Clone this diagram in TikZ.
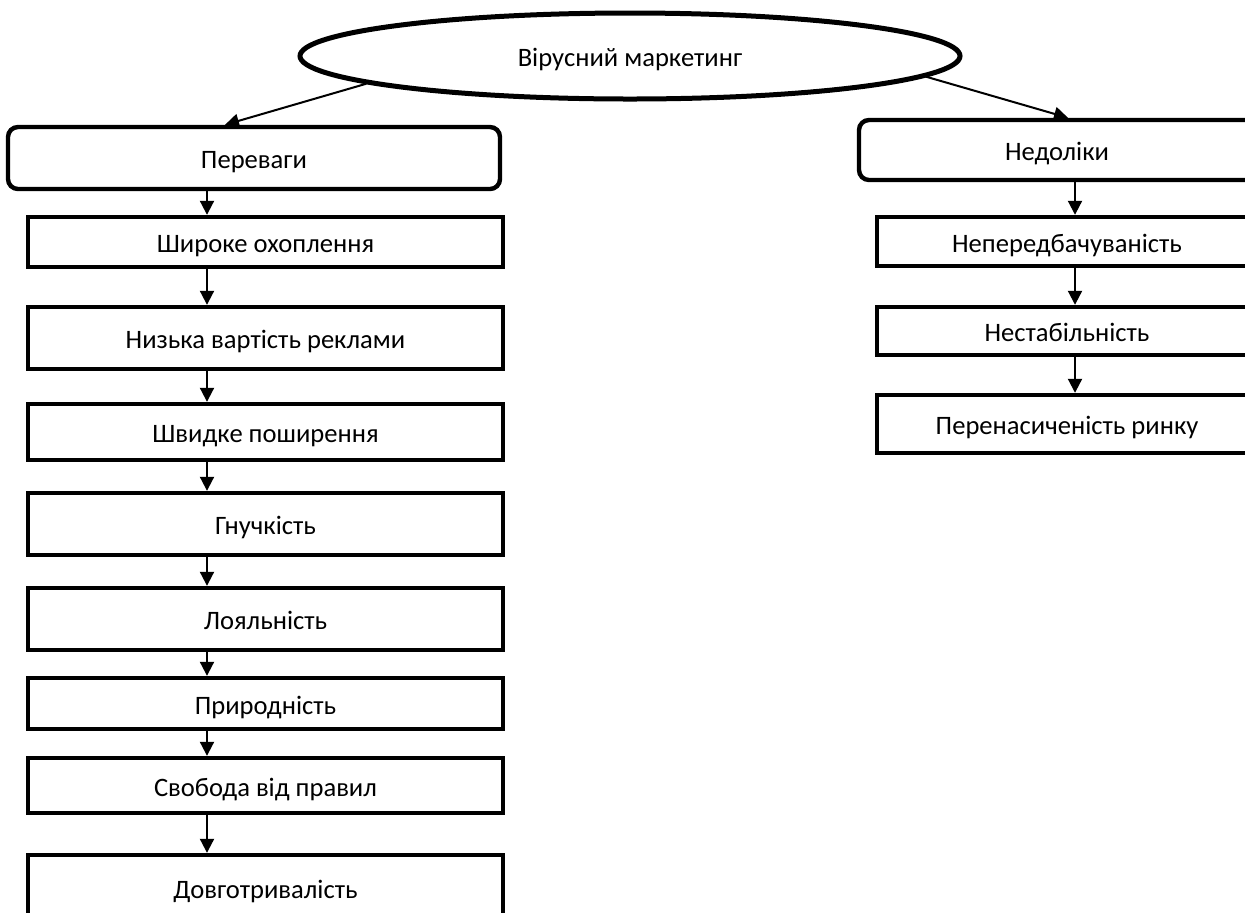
\documentclass[tikz,border=0pt]{standalone}
\usepackage{fontspec}
\setmainfont{Carlito}
\usetikzlibrary{shapes.geometric, arrows.meta, positioning}

\begin{document}
\begin{tikzpicture}[
    x=0.5pt, y=-0.5pt,
    every node/.style={font=\fontsize{13.3}{15}\selectfont, text height=2.2ex, text depth=0pt},
    topnode/.style={ellipse, draw, line width=2.5pt, minimum width=330pt, minimum height=43pt, inner sep=0pt},
    headbox/.style={rectangle, rounded corners=5pt, draw, line width=2.2pt, minimum height=31pt, inner sep=0pt},
    itembox/.style={rectangle, draw, line width=2.2pt, inner sep=0pt},
    arrow/.style={-{Triangle[length=7pt, width=7pt]}, line width=1pt}
]
    \useasboundingbox (0,0) rectangle (1245,912);
    \clip (0,0) rectangle (1245,912);

    % Top
    \node[topnode] (vm) at (630,56) {Вірусний маркетинг};

    % Left branch: advantages
    \node[headbox, minimum width=246pt] (adv) at (254,158) {Переваги};
    \node[itembox, minimum width=237.5pt, minimum height=25pt] (a1) at (265.5,242) {Широке охоплення};
    \node[itembox, minimum width=237.5pt, minimum height=31pt] (a2) at (265.5,338) {Низька вартість реклами};
    \node[itembox, minimum width=237.5pt, minimum height=28pt] (a3) at (265.5,432) {Швидке поширення};
    \node[itembox, minimum width=237.5pt, minimum height=31pt] (a4) at (265.5,524) {Гнучкість};
    \node[itembox, minimum width=237.5pt, minimum height=31pt] (a5) at (265.5,619) {Лояльність};
    \node[itembox, minimum width=237.5pt, minimum height=25.5pt] (a6) at (265.5,703.5) {Природність};
    \node[itembox, minimum width=237.5pt, minimum height=27.5pt] (a7) at (265.5,785.5) {Свобода від правил};
    \node[itembox, minimum width=237.5pt, minimum height=33pt] (a8) at (265.5,888) {Довготривалість};

    % Right branch: disadvantages
    \node[headbox, minimum width=198pt, minimum height=30pt] (dis) at (1057,150) {Недоліки};
    \node[itembox, minimum width=190pt, minimum height=24.5pt] (d1) at (1067,241.5) {Непередбачуваність};
    \node[itembox, minimum width=190pt, minimum height=24pt] (d2) at (1067,331) {Нестабільність};
    \node[itembox, minimum width=190pt, minimum height=29pt] (d3) at (1067,424) {Перенасиченість ринку};

    \coordinate (lx) at (207,0);
    \coordinate (rx) at (1075,0);

    \draw[arrow] (vm.186) -- ([xshift=-14.5pt]adv.north);
    \draw[arrow] (vm.-4) -- ([xshift=5.5pt]dis.north);

    \draw[arrow] (adv.south -| lx) -- (a1.north -| lx);
    \draw[arrow] (a1.south -| lx) -- (a2.north -| lx);
    \draw[arrow] (a2.south -| lx) -- (a3.north -| lx);
    \draw[arrow] (a3.south -| lx) -- (a4.north -| lx);
    \draw[arrow] (a4.south -| lx) -- (a5.north -| lx);
    \draw[arrow] (a5.south -| lx) -- (a6.north -| lx);
    \draw[arrow] (a6.south -| lx) -- (a7.north -| lx);
    \draw[arrow] (a7.south -| lx) -- (a8.north -| lx);

    \draw[arrow] (dis.south -| rx) -- (d1.north -| rx);
    \draw[arrow] (d1.south -| rx) -- (d2.north -| rx);
    \draw[arrow] (d2.south -| rx) -- (d3.north -| rx);
\end{tikzpicture}
\end{document}
